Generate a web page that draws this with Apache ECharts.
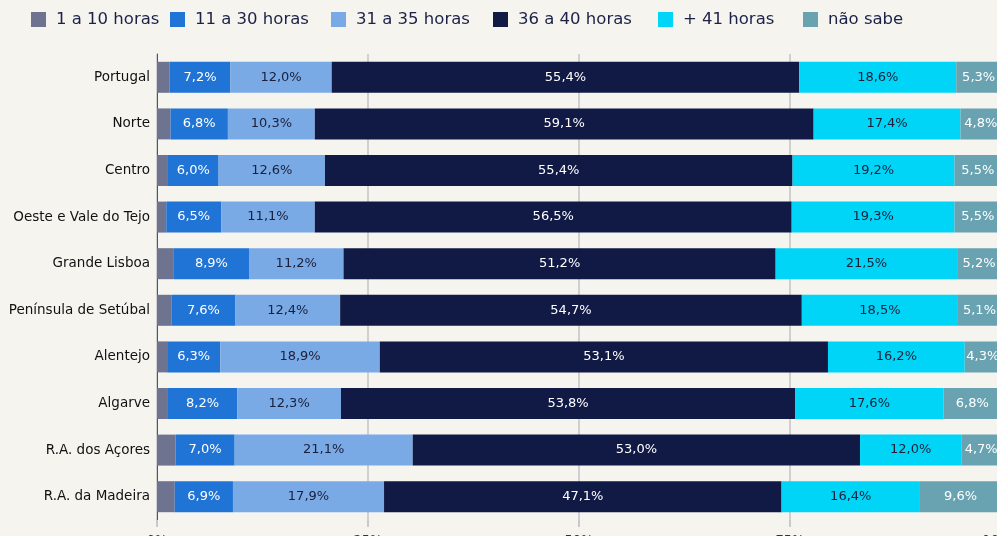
<!DOCTYPE html>
<html>
<head>
<meta charset="utf-8">
<script src="https://cdn.jsdelivr.net/npm/echarts@6/dist/echarts.min.js"></script>
<style>
html,body{margin:0;padding:0;background:#f5f4ef;}
#c{width:997px;height:536px;}
</style>
</head>
<body>
<div id="c"></div>
<script>
const categories = ["Portugal","Norte","Centro","Oeste e Vale do Tejo","Grande Lisboa","Península de Setúbal","Alentejo","Algarve","R.A. dos Açores","R.A. da Madeira"];
const seriesNames = ["1 a 10 horas","11 a 30 horas","31 a 35 horas","36 a 40 horas","+ 41 horas","não sabe"];
const h1_10  = [1.5,1.6,1.3,1.1,2.0,1.7,1.2,1.3,2.2,2.1];
const h11_30 = [7.2,6.8,6.0,6.5,8.9,7.6,6.3,8.2,7.0,6.9];
const h31_35 = [12.0,10.3,12.6,11.1,11.2,12.4,18.9,12.3,21.1,17.9];
const h36_40 = [55.4,59.1,55.4,56.5,51.2,54.7,53.1,53.8,53.0,47.1];
const h41    = [18.6,17.4,19.2,19.3,21.5,18.5,16.2,17.6,12.0,16.4];
const naoSabe= [5.3,4.8,5.5,5.5,5.2,5.1,4.3,6.8,4.7,9.6];
const xTicks = [0,25,50,75,100];

const values = [h1_10,h11_30,h31_35,h36_40,h41,naoSabe];
const colors = ['#6e7490','#1f74d6','#7aaae6','#111a45','#00d5f7','#69a3b1'];
const labelColors = [null,'#ffffff','#1a1f3a','#ffffff','#1a1f3a','#ffffff'];
const legendLeft = [31,170,331,493,658,803];

const fmt = v => v.toFixed(1).replace('.', ',') + '%';
const font = 'DejaVu Sans';

const chart = echarts.init(document.getElementById('c'));
chart.setOption({
  backgroundColor: '#f5f4ef',
  animation: false,
  textStyle: {fontFamily: font},
  legend: seriesNames.map((n,i) => ({
    data: [n],
    left: legendLeft[i],
    top: 11,
    padding: 0,
    itemWidth: 15,
    itemHeight: 15,
    icon: 'rect',
    textStyle: {fontFamily: font, fontSize: 16.5, color: '#1c2147', padding: [0,0,0,5]}
  })),
  grid: {left: 157, top: 54, width: 844, height: 466, containLabel: false, outerBoundsMode: 'none'},
  xAxis: {
    type: 'value', min: 0, max: 100, interval: 25,
    axisLine: {show: false},
    axisTick: {show: true, length: 7, lineStyle: {color: '#c9c9c9', width: 2}},
    splitLine: {show: true, lineStyle: {color: '#d0d0d0', width: 2}},
    axisLabel: {margin: 14, fontSize: 13, color: '#333', fontFamily: font,
      formatter: v => xTicks.includes(v) ? v + '%' : ''}
  },
  yAxis: {
    type: 'category', data: categories, inverse: true,
    axisLine: {show: true, lineStyle: {color: '#555', width: 1}},
    axisTick: {show: false},
    axisLabel: {margin: 7, fontSize: 13.5, color: '#111', fontFamily: font}
  },
  series: seriesNames.map((n,i) => ({
    name: n, type: 'bar', stack: 'total', data: values[i],
    barWidth: 31,
    itemStyle: {color: colors[i]},
    label: {
      show: i > 0, position: 'inside', fontSize: 13, fontFamily: font,
      color: labelColors[i] || '#fff',
      formatter: p => fmt(p.value)
    }
  }))
});
</script>
</body>
</html>
